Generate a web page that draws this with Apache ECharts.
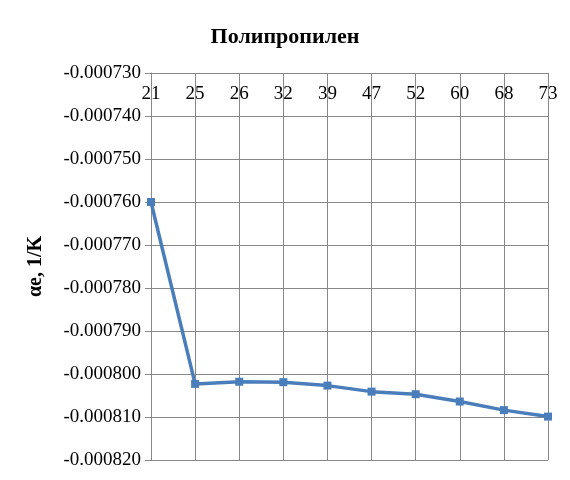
<!DOCTYPE html>
<html><head><meta charset="utf-8">
<script src="https://cdn.jsdelivr.net/npm/echarts@6/dist/echarts.min.js"></script>
<style>html,body{margin:0;padding:0;background:#fff}#c{width:570px;height:480px}</style>
</head><body><div id="c"></div>
<script>
var categories = ['21','25','26','32','39','47','52','60','68','73'];
var values = [-0.000760, -0.0008023, -0.0008018, -0.0008019, -0.0008027, -0.0008041, -0.0008047, -0.0008064, -0.0008084, -0.0008099];
var titleText = 'Полипропилен';
var yName = 'αe, 1/K';

var chart = echarts.init(document.getElementById('c'));
var font = '"Liberation Serif", "DejaVu Serif", serif';
chart.setOption({
  animation: false,
  backgroundColor: '#fff',
  title: { text: titleText, left: 'center', top: 21,
    textStyle: { fontFamily: font, fontSize: 22, fontWeight: 'bold', color: '#000' } },
  grid: { left: 151, right: 22, top: 73, bottom: 20, containLabel: false },
  xAxis: {
    type: 'category', data: categories, position: 'top', boundaryGap: false,
    axisLine: { show: true, lineStyle: { color: '#888', width: 1 } },
    axisTick: { show: false },
    axisLabel: { inside: true, margin: 12, fontFamily: font, fontSize: 19, color: '#000' },
    splitLine: { show: true, lineStyle: { color: '#888', width: 1 } }
  },
  yAxis: {
    type: 'value', min: -0.00082, max: -0.00073, interval: 0.00001,
    name: yName, nameLocation: 'middle', nameGap: 105,
    nameTextStyle: { fontFamily: font, fontSize: 20, fontWeight: 'bold', color: '#000' },
    axisLine: { show: true, lineStyle: { color: '#888', width: 1 } },
    axisTick: { show: true, length: 6, lineStyle: { color: '#888' } },
    axisLabel: { margin: 10, fontFamily: font, fontSize: 19, color: '#000',
      formatter: function (v) { return v.toFixed(6); } },
    splitLine: { show: true, lineStyle: { color: '#888', width: 1 } }
  },
  series: [{
    type: 'line', data: values, symbol: 'rect', symbolSize: 8,
    lineStyle: { color: '#4a7ebb', width: 3.5 },
    itemStyle: { color: '#4a7ebb' }
  }]
});
</script></body></html>
